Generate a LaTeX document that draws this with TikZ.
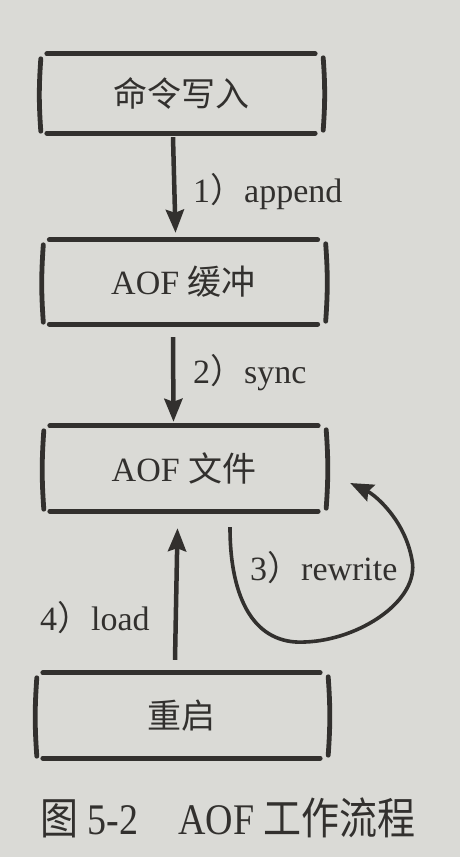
\documentclass[tikz,border=0pt]{standalone}
\usepackage{fontspec}
\usepackage{graphicx}
\setmainfont{Liberation Serif}
\newfontfamily\cjk{Noto Sans CJK SC}
\usetikzlibrary{arrows.meta}
\definecolor{paper}{RGB}{218,218,214}
\definecolor{ink}{RGB}{50,48,46}
\tikzset{
  boxline/.style={draw=ink,line width=4.8pt,line cap=round},
  flowbox/.style={minimum width=268pt,minimum height=84pt,inner sep=0pt,text=ink,font=\fontsize{34}{40}\selectfont},
  flowarrow/.style={draw=ink,line width=4.5pt,-{Stealth[width=18pt,length=23pt,inset=3pt]}},
  looparrow/.style={draw=ink,line width=3.6pt,-{Stealth[width=18pt,length=23pt,inset=3pt]}},
  steplabel/.style={anchor=base west,text=ink,font=\fontsize{34}{40}\selectfont,inner sep=0pt},
}
\begin{document}
\begin{tikzpicture}[x=1pt,y=-1pt]
  \fill[paper] (0,0) rectangle (460,857);
  \useasboundingbox (0,0) rectangle (460,857);

  \node[flowbox,minimum height=79pt] (cmd) at (181,93.5) {\cjk 命令写入};
  \node[flowbox] (buf) at (183.5,282) {AOF {\cjk 缓冲}};
  \node[flowbox,minimum height=85pt] (file) at (184,468.5) {AOF {\cjk 文件}};
  \node[flowbox,minimum height=85pt,minimum width=277pt] (boot) at (181.5,715.5) {\cjk 重启};

  \foreach \n in {cmd,buf,file,boot}{
    \draw[boxline] (\n.north west) -- (\n.north east);
    \draw[boxline] (\n.south west) -- (\n.south east);
    \draw[boxline] ([xshift=-6pt,yshift=-5pt]\n.north west) to[bend right=4] ([xshift=-6pt,yshift=2pt]\n.south west);
    \draw[boxline] ([xshift=8pt,yshift=-4pt]\n.north east) to[bend left=4] ([xshift=8pt,yshift=3pt]\n.south east);
  }

  \draw[flowarrow] ([xshift=-8pt,yshift=-4pt]cmd.south) -- ([xshift=-8pt,yshift=7pt]buf.north);
  \draw[flowarrow] ([xshift=-10.5pt,yshift=-13pt]buf.south) -- ([xshift=-10.5pt,yshift=4pt]file.north);
  \draw[flowarrow] ([xshift=-6.5pt,yshift=13pt]boot.north) -- ([xshift=-6.5pt,yshift=-17pt]file.south);

  \coordinate (rwstart) at ([shift={(46,16)}]file.south);
  \coordinate (rwend) at ([shift={(32,14.5)}]file.east);
  \coordinate (rwlow) at (305,642);
  \coordinate (rwright) at (412,560);
  \draw[looparrow] (rwstart) .. controls +(0,73) and +(-50,3) .. (rwlow)
    .. controls +(55,-2) and +(8,40) .. (rwright)
    .. controls +(-7,-40) and +(25,12) .. (rwend);

  \node[steplabel] (l1) at (193,202) {1{\cjk ）}append};
  \node[steplabel] (l2) at (193,383) {2{\cjk ）}sync};
  \node[steplabel] (l3) at (250,580) {3{\cjk ）}rewrite};
  \node[steplabel] (l4) at (40,630) {4{\cjk ）}load};

  \node[anchor=base west,inner sep=0pt,text=ink,font=\fontsize{38}{44}\selectfont] (cap) at (40,834)
    {\scalebox{1}[1.15]{{\cjk 图} 5-2\hspace{40pt}AOF {\cjk 工作流程}}};
\end{tikzpicture}
\end{document}
